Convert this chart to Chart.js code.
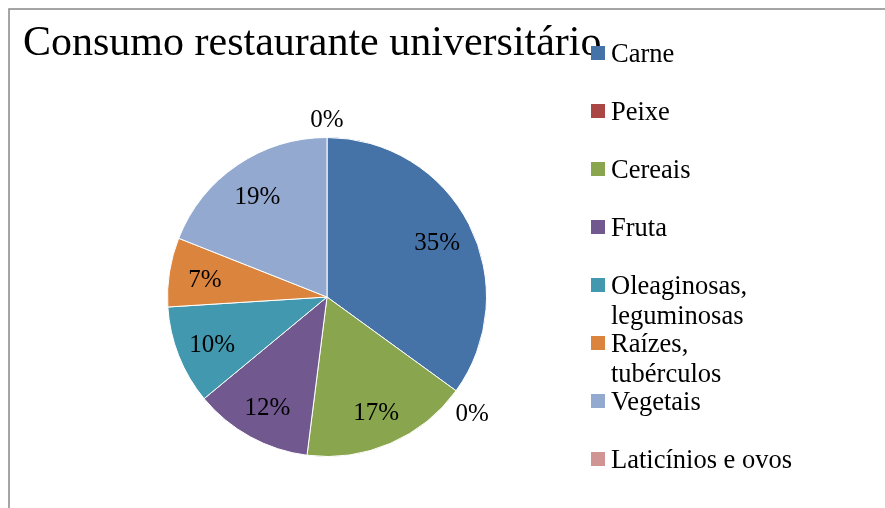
<!DOCTYPE html>
<html lang="pt">
<head>
  <meta charset="UTF-8" />
  <title>Consumo restaurante universitário</title>
  <style>
    body {
      margin: 0;
      background: #fff;
    }
    #grafico {
      display: block;
    }
  </style>
</head>
<body>
  <canvas id="grafico" width="885" height="508"></canvas>

  <script src="https://cdn.jsdelivr.net/npm/chart.js"></script>
  <script>
    const titulo = "Consumo restaurante universitário";
    const categorias = ["Carne", "Peixe", "Cereais", "Fruta", "Oleaginosas, leguminosas", "Raízes, tubérculos", "Vegetais", "Laticínios e ovos"];
    const valores = [35, 0, 17, 12, 10, 7, 19, 0];
    const cores = ["#4572A7", "#AA4643", "#89A54E", "#71588F", "#4198AF", "#DB843D", "#93A9CF", "#D09493"];

    const fonte = '"Liberation Serif", "Times New Roman", serif';

    function quebrarTexto(ctx, texto, largura) {
      const palavras = texto.split(" ");
      const linhas = [];
      let atual = "";
      palavras.forEach(p => {
        const teste = atual ? atual + " " + p : p;
        if (atual && ctx.measureText(teste).width > largura) {
          linhas.push(atual);
          atual = p;
        } else {
          atual = teste;
        }
      });
      if (atual) linhas.push(atual);
      return linhas;
    }

    // moldura, titulo, legenda e rotulos desenhados a mao
    const extras = {
      id: "extras",
      afterDraw(chart) {
        const ctx = chart.ctx;
        ctx.save();

        // moldura cinza (so aparecem topo e esquerda)
        ctx.strokeStyle = "#888";
        ctx.lineWidth = 1.5;
        ctx.beginPath();
        ctx.moveTo(9, 520);
        ctx.lineTo(9, 9);
        ctx.lineTo(900, 9);
        ctx.stroke();

        // titulo
        ctx.fillStyle = "#000";
        ctx.font = "42px " + fonte;
        ctx.textAlign = "left";
        ctx.textBaseline = "alphabetic";
        ctx.fillText(titulo, 23, 55);

        // legenda
        ctx.font = "26.5px " + fonte;
        categorias.forEach((cat, i) => {
          const topo = 46 + i * 58;
          ctx.fillStyle = cores[i];
          ctx.fillRect(591, topo, 14, 14);
          ctx.fillStyle = "#000";
          const linhas = quebrarTexto(ctx, cat, 188);
          linhas.forEach((l, j) => ctx.fillText(l, 611, topo + 16 + j * 30));
        });

        // percentuais
        const meta = chart.getDatasetMeta(0);
        const total = valores.reduce((a, b) => a + b, 0);
        ctx.font = "25px " + fonte;
        ctx.textAlign = "center";
        ctx.textBaseline = "middle";
        ctx.fillStyle = "#000";
        meta.data.forEach((arco, i) => {
          const pct = Math.round(valores[i] / total * 100);
          const meio = (arco.startAngle + arco.endAngle) / 2;
          const fora = valores[i] === 0;
          const r = fora ? arco.outerRadius + 20 : arco.outerRadius * 0.775;
          const x = arco.x + Math.cos(meio) * r;
          const y = arco.y + Math.sin(meio) * r + (fora && Math.sin(meio) > 0 ? 12 : 3);
          ctx.fillText(pct + "%", x, y);
        });

        ctx.restore();
      }
    };

    new Chart(document.getElementById("grafico"), {
      type: "pie",
      data: {
        labels: categorias,
        datasets: [{
          data: valores,
          backgroundColor: cores,
          borderColor: "#fff",
          borderWidth: 1
        }]
      },
      options: {
        responsive: false,
        animation: false,
        devicePixelRatio: 1,
        layout: {
          padding: { left: 167, right: 398, top: 137, bottom: 51 }
        },
        plugins: {
          legend: { display: false },
          title: { display: false },
          tooltip: { enabled: false }
        }
      },
      plugins: [extras]
    });
  </script>
</body>
</html>
